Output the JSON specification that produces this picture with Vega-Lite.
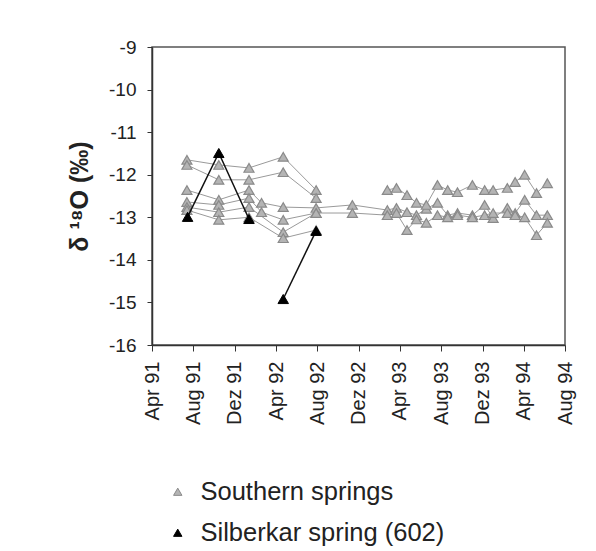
{
  "$schema": "https://vega.github.io/schema/vega-lite/v6.json",
  "autosize": {"type": "none"},
  "width": 413,
  "height": 298,
  "padding": {"left": 152, "top": 47, "right": 31, "bottom": 206},
  "background": "white",
  "config": {
    "font": "Liberation Sans",
    "view": {"stroke": "#555555", "strokeWidth": 1.5},
    "axis": {"grid": false, "domainColor": "#333333", "tickColor": "#333333", "labelColor": "#222222", "labelFont": "Liberation Sans", "domainWidth": 1.5}
  },
  "data": {"values": [
    {"g":"Southern springs","s":"G1","d":"1991-07-13","v":-11.65},
    {"g":"Southern springs","s":"G1","d":"1991-10-15","v":-11.77},
    {"g":"Southern springs","s":"G1","d":"1992-01-12","v":-11.84},
    {"g":"Southern springs","s":"G1","d":"1992-04-22","v":-11.58},
    {"g":"Southern springs","s":"G1","d":"1992-07-28","v":-12.36},
    {"g":"Southern springs","s":"G2","d":"1991-07-13","v":-11.77},
    {"g":"Southern springs","s":"G2","d":"1991-10-15","v":-12.12},
    {"g":"Southern springs","s":"G2","d":"1992-01-12","v":-12.12},
    {"g":"Southern springs","s":"G2","d":"1992-04-22","v":-11.94},
    {"g":"Southern springs","s":"G2","d":"1992-07-28","v":-12.55},
    {"g":"Southern springs","s":"G3","d":"1991-07-13","v":-12.36},
    {"g":"Southern springs","s":"G3","d":"1991-10-15","v":-12.59},
    {"g":"Southern springs","s":"G3","d":"1992-01-12","v":-12.36},
    {"g":"Southern springs","s":"G3","d":"1992-02-18","v":-12.66},
    {"g":"Southern springs","s":"G3","d":"1992-04-22","v":-12.76},
    {"g":"Southern springs","s":"G3","d":"1992-07-28","v":-12.78},
    {"g":"Southern springs","s":"G3","d":"1992-11-12","v":-12.71},
    {"g":"Southern springs","s":"G3","d":"1993-02-23","v":-12.83},
    {"g":"Southern springs","s":"G3","d":"1993-03-22","v":-12.78},
    {"g":"Southern springs","s":"G3","d":"1993-04-22","v":-12.88},
    {"g":"Southern springs","s":"G3","d":"1993-05-20","v":-12.95},
    {"g":"Southern springs","s":"G3","d":"1993-06-18","v":-12.8},
    {"g":"Southern springs","s":"G3","d":"1993-07-21","v":-12.66},
    {"g":"Southern springs","s":"G3","d":"1993-08-20","v":-12.95},
    {"g":"Southern springs","s":"G3","d":"1993-09-18","v":-12.9},
    {"g":"Southern springs","s":"G3","d":"1993-11-01","v":-12.95},
    {"g":"Southern springs","s":"G3","d":"1993-12-07","v":-12.71},
    {"g":"Southern springs","s":"G3","d":"1994-01-01","v":-13.02},
    {"g":"Southern springs","s":"G3","d":"1994-02-12","v":-12.78},
    {"g":"Southern springs","s":"G3","d":"1994-03-07","v":-12.9},
    {"g":"Southern springs","s":"G3","d":"1994-04-04","v":-12.59},
    {"g":"Southern springs","s":"G3","d":"1994-05-09","v":-12.95},
    {"g":"Southern springs","s":"G3","d":"1994-06-10","v":-12.95},
    {"g":"Southern springs","s":"G4","d":"1991-07-13","v":-12.64},
    {"g":"Southern springs","s":"G4","d":"1991-10-15","v":-12.71},
    {"g":"Southern springs","s":"G4","d":"1992-01-12","v":-12.55},
    {"g":"Southern springs","s":"G4","d":"1992-02-18","v":-12.88},
    {"g":"Southern springs","s":"G4","d":"1992-04-22","v":-13.06},
    {"g":"Southern springs","s":"G4","d":"1992-07-28","v":-12.9},
    {"g":"Southern springs","s":"G4","d":"1992-11-12","v":-12.9},
    {"g":"Southern springs","s":"G4","d":"1993-02-23","v":-12.95},
    {"g":"Southern springs","s":"G4","d":"1993-03-22","v":-12.9},
    {"g":"Southern springs","s":"G4","d":"1993-04-22","v":-13.3},
    {"g":"Southern springs","s":"G4","d":"1993-05-20","v":-13.05},
    {"g":"Southern springs","s":"G4","d":"1993-06-18","v":-13.13},
    {"g":"Southern springs","s":"G4","d":"1993-07-21","v":-12.95},
    {"g":"Southern springs","s":"G4","d":"1993-08-20","v":-13.0},
    {"g":"Southern springs","s":"G4","d":"1993-09-18","v":-12.95},
    {"g":"Southern springs","s":"G4","d":"1993-11-01","v":-13.0},
    {"g":"Southern springs","s":"G4","d":"1993-12-07","v":-12.95},
    {"g":"Southern springs","s":"G4","d":"1994-01-01","v":-12.9},
    {"g":"Southern springs","s":"G4","d":"1994-02-12","v":-12.9},
    {"g":"Southern springs","s":"G4","d":"1994-03-07","v":-12.95},
    {"g":"Southern springs","s":"G4","d":"1994-04-04","v":-13.0},
    {"g":"Southern springs","s":"G4","d":"1994-05-09","v":-13.42},
    {"g":"Southern springs","s":"G4","d":"1994-06-10","v":-13.13},
    {"g":"Southern springs","s":"G5","d":"1991-07-13","v":-12.76},
    {"g":"Southern springs","s":"G5","d":"1991-10-15","v":-12.88},
    {"g":"Southern springs","s":"G5","d":"1992-01-12","v":-12.76},
    {"g":"Southern springs","s":"G5","d":"1992-04-22","v":-13.35},
    {"g":"Southern springs","s":"G5","d":"1992-07-28","v":-12.9},
    {"g":"Southern springs","s":"G6","d":"1991-07-13","v":-12.83},
    {"g":"Southern springs","s":"G6","d":"1991-10-15","v":-13.06},
    {"g":"Southern springs","s":"G6","d":"1992-01-12","v":-13.0},
    {"g":"Southern springs","s":"G6","d":"1992-04-22","v":-13.49},
    {"g":"Southern springs","s":"G6","d":"1992-07-28","v":-13.3},
    {"g":"Southern springs","s":"G7","d":"1993-02-23","v":-12.36},
    {"g":"Southern springs","s":"G7","d":"1993-03-22","v":-12.31},
    {"g":"Southern springs","s":"G7","d":"1993-04-22","v":-12.48},
    {"g":"Southern springs","s":"G7","d":"1993-05-20","v":-12.66},
    {"g":"Southern springs","s":"G7","d":"1993-06-18","v":-12.71},
    {"g":"Southern springs","s":"G7","d":"1993-07-21","v":-12.24},
    {"g":"Southern springs","s":"G7","d":"1993-08-20","v":-12.36},
    {"g":"Southern springs","s":"G7","d":"1993-09-18","v":-12.41},
    {"g":"Southern springs","s":"G7","d":"1993-11-01","v":-12.24},
    {"g":"Southern springs","s":"G7","d":"1993-12-07","v":-12.36},
    {"g":"Southern springs","s":"G7","d":"1994-01-01","v":-12.36},
    {"g":"Southern springs","s":"G7","d":"1994-02-12","v":-12.31},
    {"g":"Southern springs","s":"G7","d":"1994-03-07","v":-12.17},
    {"g":"Southern springs","s":"G7","d":"1994-04-04","v":-12.0},
    {"g":"Southern springs","s":"G7","d":"1994-05-09","v":-12.43},
    {"g":"Southern springs","s":"G7","d":"1994-06-10","v":-12.2},
    {"g":"Silberkar spring (602)","s":"B1","d":"1991-07-15","v":-12.99},
    {"g":"Silberkar spring (602)","s":"B1","d":"1991-10-15","v":-11.49},
    {"g":"Silberkar spring (602)","s":"B1","d":"1992-01-12","v":-13.04},
    {"g":"Silberkar spring (602)","s":"B2","d":"1992-04-22","v":-14.92},
    {"g":"Silberkar spring (602)","s":"B2","d":"1992-07-28","v":-13.32}
  ]},
  "encoding": {
    "x": {
      "field": "d", "type": "temporal",
      "scale": {"type": "utc", "domain": [{"year": 1991, "month": 4, "date": 1, "utc": true}, {"year": 1994, "month": 8, "date": 1, "utc": true}]},
      "axis": {
        "title": null,
        "values": [
          {"year": 1991, "month": 4, "date": 1, "utc": true},
          {"year": 1991, "month": 8, "date": 1, "utc": true},
          {"year": 1991, "month": 12, "date": 1, "utc": true},
          {"year": 1992, "month": 4, "date": 1, "utc": true},
          {"year": 1992, "month": 8, "date": 1, "utc": true},
          {"year": 1992, "month": 12, "date": 1, "utc": true},
          {"year": 1993, "month": 4, "date": 1, "utc": true},
          {"year": 1993, "month": 8, "date": 1, "utc": true},
          {"year": 1993, "month": 12, "date": 1, "utc": true},
          {"year": 1994, "month": 4, "date": 1, "utc": true},
          {"year": 1994, "month": 8, "date": 1, "utc": true}
        ],
        "labelExpr": "replace(utcFormat(datum.value, '%b %y'), 'Dec', 'Dez')",
        "labelAngle": -90,
        "labelFontSize": 20,
        "labelPadding": 10,
        "tickSize": 6,
        "labelFlush": false,
        "labelOverlap": false
      }
    },
    "y": {
      "field": "v", "type": "quantitative",
      "scale": {"domain": [-16, -9], "nice": false, "zero": false},
      "axis": {
        "values": [-16, -15, -14, -13, -12, -11, -10, -9],
        "labelExpr": "'' + datum.value",
        "labelFontSize": 19,
        "labelPadding": 11,
        "tickSize": 5,
        "title": "δ ¹⁸O (‰)",
        "titleFontSize": 25,
        "titleFontWeight": "bold",
        "titleColor": "#222222",
        "titlePadding": 16
      }
    },
    "detail": {"field": "s"}
  },
  "layer": [
    {
      "transform": [{"filter": "datum.g === 'Southern springs'"}],
      "mark": {"type": "line", "strokeWidth": 1, "stroke": "#9a9a9a"},
      "encoding": {}
    },
    {
      "transform": [{"filter": "datum.g === 'Southern springs'"}],
      "mark": {"type": "point", "shape": "triangle-up", "filled": false, "size": 100, "strokeWidth": 1.2, "opacity": 1},
      "encoding": {
        "fill": {"field": "g", "type": "nominal", "scale": {"domain": ["Southern springs", "Silberkar spring (602)"], "range": ["#b4b4b4", "#000000"]},
          "legend": {"orient": "none", "legendX": 13, "legendY": 432, "title": null, "labelFontSize": 25.5, "labelLimit": 500, "labelColor": "#222222", "symbolSize": 70, "rowPadding": 14, "labelOffset": 10, "symbolStrokeWidth": 1}},
        "stroke": {"field": "g", "type": "nominal", "scale": {"domain": ["Southern springs", "Silberkar spring (602)"], "range": ["#8a8a8a", "#000000"]}},
        "shape": {"field": "g", "type": "nominal", "scale": {"domain": ["Southern springs", "Silberkar spring (602)"], "range": ["triangle-up", "triangle-up"]}}
      }
    },
    {
      "transform": [{"filter": "datum.g !== 'Southern springs'"}],
      "mark": {"type": "line", "strokeWidth": 1.5, "stroke": "#111111"},
      "encoding": {}
    },
    {
      "transform": [{"filter": "datum.g !== 'Southern springs'"}],
      "mark": {"type": "point", "shape": "triangle-up", "filled": false, "size": 110, "strokeWidth": 1, "opacity": 1},
      "encoding": {
        "fill": {"field": "g", "type": "nominal"},
        "stroke": {"field": "g", "type": "nominal"},
        "shape": {"field": "g", "type": "nominal"}
      }
    }
  ]
}
